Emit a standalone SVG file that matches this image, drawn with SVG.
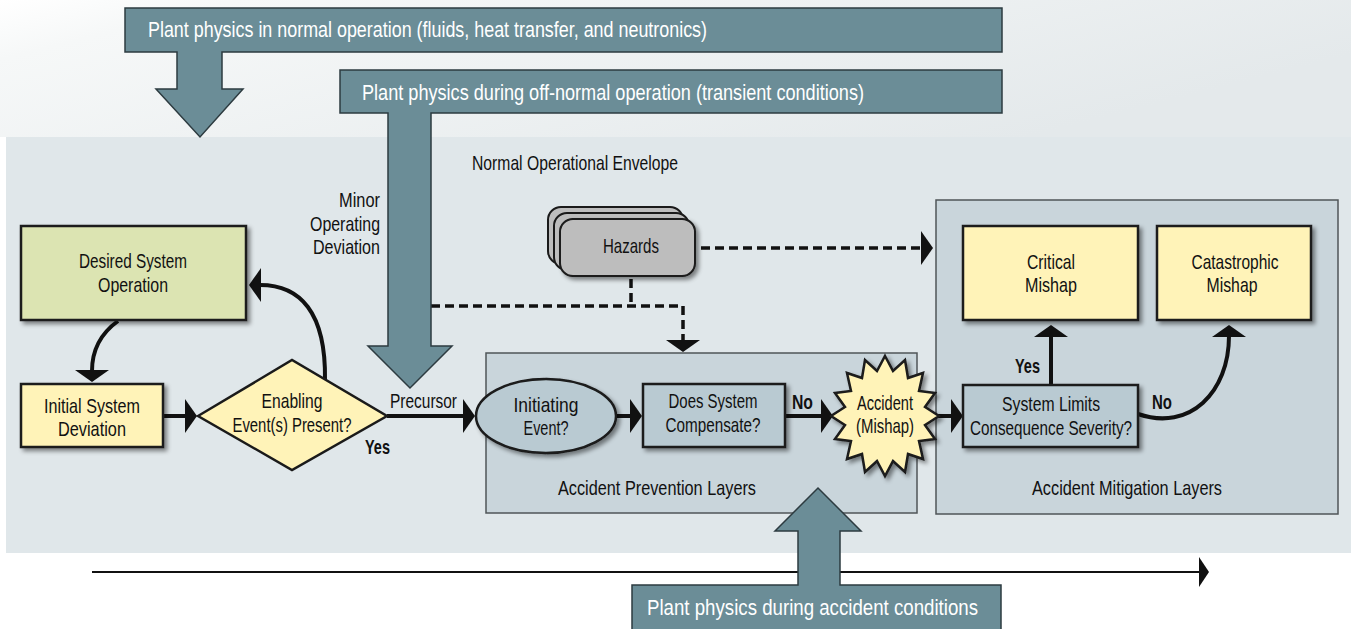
<svg xmlns="http://www.w3.org/2000/svg" width="1351" height="629" viewBox="0 0 1351 629">
<defs>
<linearGradient id="topg" x1="0" y1="0" x2="1" y2="0.4">
<stop offset="0" stop-color="#ffffff"/>
<stop offset="0.15" stop-color="#f6f8f8"/>
<stop offset="1" stop-color="#e4e9eb"/>
</linearGradient>
<filter id="sh" x="-10%" y="-10%" width="130%" height="140%">
<feDropShadow dx="3" dy="3" stdDeviation="2" flood-color="#000" flood-opacity="0.45"/>
</filter>
<marker id="ah" viewBox="0 0 12 34" refX="1" refY="17" markerWidth="12" markerHeight="34" markerUnits="userSpaceOnUse" orient="auto">
<path d="M0,0 L12,17 L0,34 Z" fill="#111"/>
</marker>
<marker id="ahs" viewBox="0 0 10 30" refX="1" refY="15" markerWidth="10" markerHeight="30" markerUnits="userSpaceOnUse" orient="auto">
<path d="M0,0 L10,15 L0,30 Z" fill="#111"/>
</marker>
</defs>
<style>
text{font-family:"Liberation Sans Narrow","Arial Narrow","Liberation Sans",Arial,sans-serif;font-size:21px;fill:#111}
.c{text-anchor:middle}
.e{text-anchor:end}
.b{font-weight:bold}
.w{fill:#fff;font-size:22px}
.banner{fill:#6b8d97;stroke:#2d3b40;stroke-width:1.5}
.yel{fill:#fff3b8;stroke:#1a1a1a;stroke-width:2.5}
.grn{fill:#dce4b2;stroke:#1a1a1a;stroke-width:2.5}
.blu{fill:#b9cad2;stroke:#1a1a1a;stroke-width:2.5}
.layer{fill:#c9d5db;stroke:#4f5558;stroke-width:1.5}
.haz{fill:#bdbdbd;stroke:#1a1a1a;stroke-width:2}
.ln{fill:none;stroke:#111;stroke-width:4}
.dash{fill:none;stroke:#111;stroke-width:3.5;stroke-dasharray:9 5}
</style>
<rect x="0" y="0" width="1351" height="629" fill="#fff"/>
<rect x="0" y="0" width="1351" height="137" fill="url(#topg)"/>
<rect id="envelope" x="6" y="137" width="1345" height="416" fill="#e0e7ea"/>
<text x="472" y="170" textLength="206" lengthAdjust="spacingAndGlyphs">Normal Operational Envelope</text>

<g id="prevention-layer">
<rect class="layer" x="486" y="353" width="431" height="160"/>
<text class="c" x="657" y="495" textLength="198" lengthAdjust="spacingAndGlyphs">Accident Prevention Layers</text>
</g>
<g id="mitigation-layer">
<rect class="layer" x="936" y="200" width="402" height="314"/>
<text class="c" x="1127" y="495" textLength="190" lengthAdjust="spacingAndGlyphs">Accident Mitigation Layers</text>
</g>

<g id="banner-normal">
<path class="banner" d="M125,8 H1002 V52 H222 V89 H243 L200,137 L156,89 H177 V52 H125 Z"/>
<text class="w" x="148" y="37" textLength="559" lengthAdjust="spacingAndGlyphs">Plant physics in normal operation (fluids, heat transfer, and neutronics)</text>
</g>

<g id="connectors">
<path class="dash" d="M431,306 H683 V341" marker-end="url(#ah)"/>
<path class="dash" d="M631,279 V306"/>
<path class="dash" d="M701,248 H922" marker-end="url(#ah)"/>
<path class="ln" d="M163,416 H186" marker-end="url(#ah)"/>
<path class="ln" d="M387,416 H464" marker-end="url(#ah)"/>
<path class="ln" d="M617,416 H631" marker-end="url(#ah)"/>
<path class="ln" d="M785,416 H822" marker-end="url(#ah)"/>
<path class="ln" d="M936,416 H952" marker-end="url(#ah)"/>
<path class="ln" d="M325,380 C326,312 300,285 260,285" marker-end="url(#ah)"/>
<path class="ln" d="M118,321 C100,334 92,350 92,371" marker-end="url(#ah)"/>
<path class="ln" d="M1051,385 V336" marker-end="url(#ah)"/>
<path class="ln" d="M1138,414 C1190,432 1229,392 1229,336" marker-end="url(#ah)"/>
<path fill="none" stroke="#111" stroke-width="2" d="M92,572 H1200" marker-end="url(#ahs)"/>
<text x="390" y="408" textLength="67" lengthAdjust="spacingAndGlyphs">Precursor</text>
<text class="b" x="365" y="454" textLength="25" lengthAdjust="spacingAndGlyphs">Yes</text>
<text class="b" x="792" y="409" textLength="21" lengthAdjust="spacingAndGlyphs">No</text>
<text class="b e" x="1040" y="373" textLength="25" lengthAdjust="spacingAndGlyphs">Yes</text>
<text class="b" x="1152" y="409" textLength="20" lengthAdjust="spacingAndGlyphs">No</text>
</g>

<g id="banner-offnormal">
<path class="banner" d="M340,70 H1002 V113 H431 V346 H452 L410,388 L368,346 H388 V113 H340 Z"/>
<text class="w" x="362" y="100" textLength="502" lengthAdjust="spacingAndGlyphs">Plant physics during off-normal operation (transient conditions)</text>
<text class="e" x="380" y="207" textLength="41" lengthAdjust="spacingAndGlyphs">Minor</text>
<text class="e" x="380" y="231" textLength="70" lengthAdjust="spacingAndGlyphs">Operating</text>
<text class="e" x="380" y="254" textLength="67" lengthAdjust="spacingAndGlyphs">Deviation</text>
</g>

<g id="desired-system-operation">
<rect class="grn" x="21" y="226" width="225" height="94" filter="url(#sh)"/>
<text class="c" x="133" y="268" textLength="108" lengthAdjust="spacingAndGlyphs">Desired System</text>
<text class="c" x="133" y="292" textLength="70" lengthAdjust="spacingAndGlyphs">Operation</text>
</g>

<g id="initial-system-deviation">
<rect class="yel" x="21" y="384" width="142" height="63" filter="url(#sh)"/>
<text class="c" x="92" y="413" textLength="96" lengthAdjust="spacingAndGlyphs">Initial System</text>
<text class="c" x="92" y="436" textLength="68" lengthAdjust="spacingAndGlyphs">Deviation</text>
</g>

<g id="enabling-events">
<path class="yel" d="M198,416 L292,360 L387,416 L292,470 Z"/>
<text class="c" x="292" y="408" textLength="61" lengthAdjust="spacingAndGlyphs">Enabling</text>
<text class="c" x="292" y="432" textLength="119" lengthAdjust="spacingAndGlyphs">Event(s) Present?</text>
</g>

<g id="hazards">
<rect class="haz" x="548" y="207" width="135" height="57" rx="13"/>
<rect class="haz" x="554" y="213" width="135" height="57" rx="13"/>
<rect class="haz" x="560" y="219" width="135" height="57" rx="13" filter="url(#sh)"/>
<text class="c" x="631" y="253" textLength="56" lengthAdjust="spacingAndGlyphs">Hazards</text>
</g>

<g id="initiating-event">
<ellipse class="blu" cx="546" cy="416" rx="70" ry="37" filter="url(#sh)"/>
<text class="c" x="546" y="412" textLength="65" lengthAdjust="spacingAndGlyphs">Initiating</text>
<text class="c" x="546" y="435" textLength="45" lengthAdjust="spacingAndGlyphs">Event?</text>
</g>

<g id="does-system-compensate">
<rect class="blu" x="643" y="384" width="142" height="63" filter="url(#sh)"/>
<text class="c" x="713" y="408" textLength="89" lengthAdjust="spacingAndGlyphs">Does System</text>
<text class="c" x="713" y="432" textLength="95" lengthAdjust="spacingAndGlyphs">Compensate?</text>
</g>

<g id="accident">
<polygon class="yel" filter="url(#sh)" points="885,356 893,371 905,360 908,378 923,373 919,391 935,393 925,407 939,416 925,425 935,439 919,441 923,459 908,454 905,472 893,461 885,476 877,461 865,472 862,454 847,459 851,441 835,439 845,425 831,416 845,407 835,393 851,391 847,373 862,378 865,360 877,371"/>
<text class="c" x="885" y="410" textLength="56" lengthAdjust="spacingAndGlyphs">Accident</text>
<text class="c" x="885" y="433" textLength="58" lengthAdjust="spacingAndGlyphs">(Mishap)</text>
</g>

<g id="system-limits">
<rect class="blu" x="963" y="385" width="175" height="62" filter="url(#sh)"/>
<text class="c" x="1051" y="411" textLength="98" lengthAdjust="spacingAndGlyphs">System Limits</text>
<text class="c" x="1051" y="435" textLength="162" lengthAdjust="spacingAndGlyphs">Consequence Severity?</text>
</g>

<g id="critical-mishap">
<rect class="yel" x="963" y="226" width="175" height="94" filter="url(#sh)"/>
<text class="c" x="1051" y="269" textLength="48" lengthAdjust="spacingAndGlyphs">Critical</text>
<text class="c" x="1051" y="292" textLength="52" lengthAdjust="spacingAndGlyphs">Mishap</text>
</g>

<g id="catastrophic-mishap">
<rect class="yel" x="1157" y="226" width="154" height="94" filter="url(#sh)"/>
<text class="c" x="1235" y="269" textLength="87" lengthAdjust="spacingAndGlyphs">Catastrophic</text>
<text class="c" x="1232" y="292" textLength="51" lengthAdjust="spacingAndGlyphs">Mishap</text>
</g>

<g id="banner-accident">
<path class="banner" d="M632,585 H798 V531 H775 L818,488 L861,531 H840 V585 H1001 V640 H632 Z"/>
<text class="w" x="647" y="615" textLength="331" lengthAdjust="spacingAndGlyphs">Plant physics during accident conditions</text>
</g>
</svg>
